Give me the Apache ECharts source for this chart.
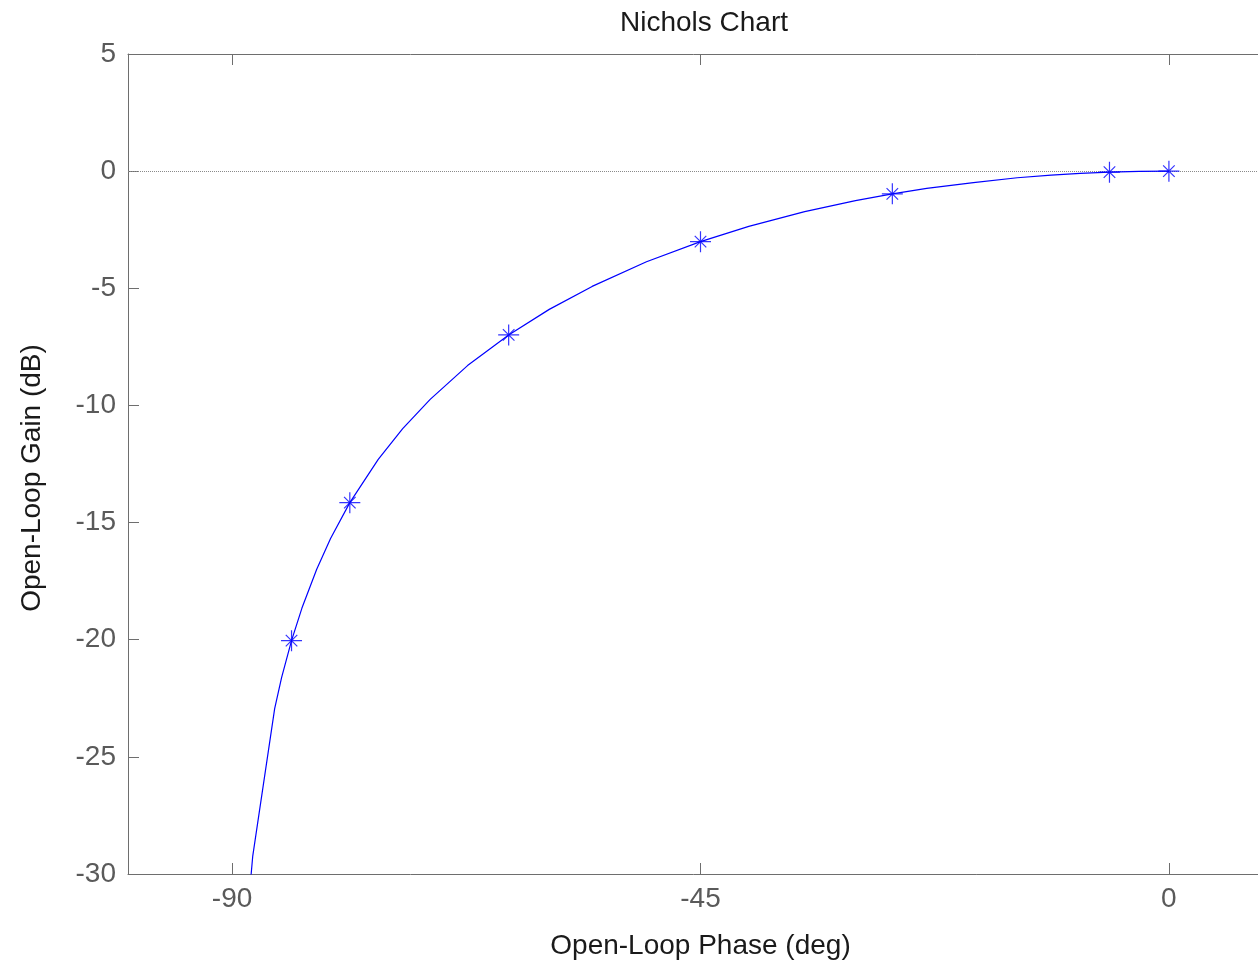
<!DOCTYPE html>
<html>
<head>
<meta charset="utf-8">
<script src="https://cdn.jsdelivr.net/npm/echarts@6/dist/echarts.min.js"></script>
<style>
html,body{margin:0;padding:0;background:#fff;}
#chart{width:1258px;height:963px;}
</style>
</head>
<body>
<div id="chart"></div>
<script>
// Curve samples (phase in deg, gain in dB)
var curvePhase = [0, -2.86, -5.71, -8.53, -11.31, -14.57, -18.78, -23.27, -26.57, -30.11, -34.99, -40.36, -45.0, -50.19, -55.41, -59.53, -63.43, -67.38, -70.97, -73.61, -75.96, -78.69, -80.54, -81.87, -83.29, -84.29, -85.24, -85.91, -88.02, -88.57];
var curveGain  = [0, -0.011, -0.043, -0.097, -0.170, -0.283, -0.487, -0.736, -0.969, -1.26, -1.73, -2.36, -3.01, -3.87, -4.92, -5.90, -6.99, -8.30, -9.74, -10.99, -12.30, -14.15, -15.68, -16.99, -18.65, -20.04, -21.61, -22.94, -29.25, -32.04];
// Marked points
var markerPhase = [0, -5.71, -26.57, -45.0, -63.43, -78.69, -84.29];
var markerGain  = [0, -0.043, -0.969, -3.01, -6.99, -14.15, -20.04];
// Axis ticks
var xTicks = [-90, -45, 0];
var yTicks = [5, 0, -5, -10, -15, -20, -25, -30];

var curveData = curvePhase.map(function(p,i){return [p, curveGain[i]];});
var markerData = markerPhase.map(function(p,i){return [p, markerGain[i]];});

var FONT = '"Liberation Sans", Arial, Helvetica, sans-serif';
var AXC = '#6e6e6e';
var LBL = '#5a5a5a';

var chart = echarts.init(document.getElementById('chart'), null, {renderer:'canvas'});
var xCommon = {
  type:'value', min:-100, max:10,
  splitLine:{show:false},
  axisLine:{show:true, onZero:false, lineStyle:{color:AXC, width:1}},
  axisTick:{show:true, inside:true, length:11, customValues:xTicks, lineStyle:{color:AXC}},
  axisLabel:{show:true, customValues:xTicks, color:LBL, fontSize:28, fontFamily:FONT, margin:11}
};
var yCommon = {
  type:'value', min:-30, max:5, interval:5,
  splitLine:{show:false},
  axisLine:{show:true, onZero:false, lineStyle:{color:AXC, width:1}},
  axisTick:{show:true, inside:true, length:11, lineStyle:{color:AXC}},
  axisLabel:{show:true, color:LBL, fontSize:28, fontFamily:FONT, margin:12}
};
function clone(o){return JSON.parse(JSON.stringify(o));}
var xBottom = clone(xCommon); xBottom.position='bottom';
xBottom.name='Open-Loop Phase (deg)'; xBottom.nameLocation='middle'; xBottom.nameGap=58;
xBottom.nameTextStyle={color:'#1a1a1a', fontSize:28, fontFamily:FONT};
var xTop = clone(xCommon); xTop.position='top'; xTop.axisLabel.show=false;
var yLeft = clone(yCommon); yLeft.position='left';
var yRight = clone(yCommon); yRight.position='right'; yRight.axisLabel.show=false;

chart.setOption({
  backgroundColor:'#ffffff',
  animation:false,
  title:{text:'Nichols Chart', left:699, top:4, textAlign:'center',
    textStyle:{color:'#1a1a1a', fontSize:28, fontWeight:'normal', fontFamily:FONT}},
  grid:{left:128, top:54, width:1145, height:820, containLabel:false, outerBoundsMode:'none'},
  xAxis:[xBottom, xTop],
  yAxis:[yLeft, yRight],
  graphic:[{type:'text', x:32, y:478, rotation:Math.PI/2,
    style:{text:'Open-Loop Gain (dB)', fill:'#1a1a1a', font:'28px ' + FONT, textAlign:'center', textVerticalAlign:'middle'}}],
  series:[
    {type:'line', xAxisIndex:0, yAxisIndex:0, data:curveData, showSymbol:false, symbol:'none',
     lineStyle:{color:'#0000ff', width:1.2}, clip:true, z:3,
     markLine:{silent:true, symbol:['none','none'], label:{show:false},
       lineStyle:{color:'#8a8a8a', type:'dotted', width:1}, data:[{yAxis:0}], z:2}},
    {type:'scatter', xAxisIndex:0, yAxisIndex:0, data:markerData,
     symbol:'path://M0,-10L0,10M-10,0L10,0M-5.5,-5.5L5.5,5.5M-5.5,5.5L5.5,-5.5',
     symbolSize:21, symbolKeepAspect:true,
     itemStyle:{color:'none', borderColor:'#0000ff', borderWidth:1.2}, z:4}
  ]
});
</script>
</body>
</html>
